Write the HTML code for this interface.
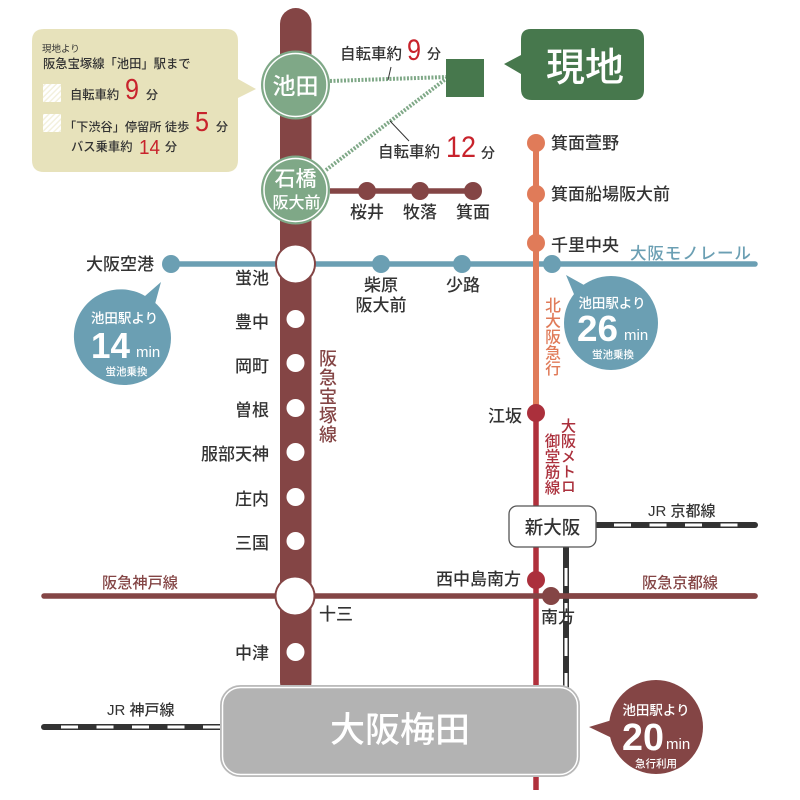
<!DOCTYPE html>
<html lang="ja"><head><meta charset="utf-8"><style>
html,body{margin:0;padding:0;background:#fff}
svg{display:block}
text{font-family:"Liberation Sans","Noto Sans CJK JP",sans-serif;font-weight:500;fill:#333}
.s{font-size:17px}
.e{text-anchor:end}.m{text-anchor:middle}
.w{fill:#fff}
.v{writing-mode:vertical-rl;text-anchor:start}
.r{fill:#c8232c;font-weight:400}
</style></head><body>
<svg width="800" height="800" viewBox="0 0 800 800" xmlns="http://www.w3.org/2000/svg">
<defs><pattern id="h" width="4" height="4" patternUnits="userSpaceOnUse" patternTransform="rotate(-45)"><rect width="4" height="4" fill="#f3f0dc"/><rect width="4" height="2.6" fill="#fff"/></pattern></defs>

<!-- main line -->
<rect x="280" y="8" width="31.5" height="690" rx="15.7" fill="#844545"/>

<!-- lines -->
<line x1="171" y1="264" x2="755" y2="264" stroke="#6b9fb3" stroke-width="5.5" stroke-linecap="round"/>
<line x1="536" y1="143" x2="536" y2="413" stroke="#e07b59" stroke-width="6"/>
<line x1="536" y1="413" x2="536" y2="790" stroke="#b0303c" stroke-width="5.5"/>
<line x1="44" y1="596" x2="755" y2="596" stroke="#844545" stroke-width="5.5" stroke-linecap="round"/>
<line x1="330" y1="191" x2="473" y2="191" stroke="#844545" stroke-width="5.5"/>

<!-- JR -->
<line x1="566" y1="547" x2="566" y2="690" stroke="#333" stroke-width="6"/>
<line x1="566" y1="568" x2="566" y2="690" stroke="#fff" stroke-width="3" stroke-dasharray="18 17"/>
<line x1="596" y1="525" x2="755" y2="525" stroke="#333" stroke-width="6" stroke-linecap="round"/>
<line x1="614" y1="525" x2="755" y2="525" stroke="#fff" stroke-width="3" stroke-dasharray="17 18.5"/>
<line x1="44" y1="727" x2="222" y2="727" stroke="#333" stroke-width="6" stroke-linecap="round"/>
<line x1="61" y1="727" x2="222" y2="727" stroke="#fff" stroke-width="3" stroke-dasharray="17 18.5"/>

<!-- redraw kyoto line over JR -->
<line x1="552" y1="596" x2="755" y2="596" stroke="#844545" stroke-width="5.5" stroke-linecap="round"/>

<!-- station nodes -->
<g fill="#6b9fb3"><circle cx="171" cy="264" r="9"/><circle cx="381" cy="264" r="9"/><circle cx="462" cy="264" r="9"/><circle cx="552" cy="264" r="9"/></g>
<g fill="#e07b59"><circle cx="536" cy="143" r="9"/><circle cx="536" cy="194" r="9"/><circle cx="536" cy="243" r="9"/></g>
<g fill="#ab303c"><circle cx="536" cy="413" r="9"/><circle cx="536" cy="580" r="9"/></g>
<g fill="#844545"><circle cx="367" cy="191" r="9"/><circle cx="420" cy="191" r="9"/><circle cx="473" cy="191" r="9"/><circle cx="551" cy="596" r="9"/></g>
<g fill="#fff"><circle cx="295.500" cy="319" r="9"/><circle cx="295.500" cy="363" r="9"/><circle cx="295.500" cy="408" r="9"/><circle cx="295.500" cy="452" r="9"/><circle cx="295.500" cy="497" r="9"/><circle cx="295.500" cy="541" r="9"/><circle cx="295.500" cy="652" r="9"/></g>
<circle cx="295.500" cy="264" r="19.500" fill="#fff" stroke="#844545" stroke-width="2"/>
<circle cx="295" cy="596" r="19.500" fill="#fff" stroke="#844545" stroke-width="2"/>

<!-- dotted connectors -->
<g stroke="#7fa887" stroke-width="4" stroke-dasharray="2 1.500" fill="none">
<line x1="330" y1="81" x2="447" y2="77"/>
<line x1="326" y1="170" x2="447" y2="78"/>
</g>
<g stroke="#333" stroke-width="1" fill="none"><line x1="388" y1="80" x2="391" y2="67"/><line x1="390" y1="121" x2="409" y2="141"/></g>

<!-- Ikeda / Ishibashi -->
<circle cx="295.500" cy="85" r="34.500" fill="#7fa887"/><circle cx="295.500" cy="85" r="31.500" fill="#7fa887" stroke="#fff" stroke-width="1.500"/>
<text x="295.500" y="94" class="m w" font-size="23">池田</text>
<circle cx="295.500" cy="190" r="34.500" fill="#7fa887"/><circle cx="295.500" cy="190" r="31.500" fill="#7fa887" stroke="#fff" stroke-width="1.500"/>
<text x="295.500" y="186" class="m w" font-size="21">石橋</text>
<text x="296.500" y="208" class="m w" font-size="16">阪大前</text>

<!-- genchi -->
<rect x="446" y="59" width="38" height="38" fill="#47784d"/>
<path d="M504 64L521 55V89Q521 100 532 100H634Q644 100 644 90V39Q644 29 634 29H531Q521 29 521 39V74Z" fill="#47784d"/>
<text x="585" y="81" class="m w" font-size="39">現地</text>

<!-- bike labels -->
<text x="340" y="59" font-size="15.500">自転車約</text>
<text x="407" y="60" class="r" font-size="30" textLength="14" lengthAdjust="spacingAndGlyphs">9</text>
<text x="427" y="59" font-size="14">分</text>
<text x="378" y="157" font-size="15.500">自転車約</text>
<text x="446" y="157" class="r" font-size="30" textLength="30" lengthAdjust="spacingAndGlyphs">12</text>
<text x="481" y="158" font-size="14">分</text>

<!-- yellow box -->
<path d="M256 89L238 98V160Q238 172 226 172H44Q32 172 32 160V41Q32 29 44 29H226Q238 29 238 41V79Z" fill="#e7e2bb"/>
<text x="42" y="52" font-size="9.500" style="font-weight:400">現地より</text>
<text x="43" y="68" font-size="12.300">阪急宝塚線「池田」駅まで</text>
<rect x="43" y="84" width="18" height="18" fill="url(#h)"/>
<rect x="43" y="114" width="18" height="18" fill="url(#h)"/>
<text x="70" y="99" font-size="12.300">自転車約</text>
<text x="125" y="99" class="r" font-size="29" textLength="14" lengthAdjust="spacingAndGlyphs">9</text>
<text x="146" y="99" font-size="12">分</text>
<text x="64" y="131" font-size="12.200">「下渋谷」停留所 徒歩</text>
<text x="195" y="131" class="r" font-size="28" textLength="14" lengthAdjust="spacingAndGlyphs">5</text>
<text x="216" y="131" font-size="12">分</text>
<text x="71" y="151" font-size="12.300">バス乗車約</text>
<text x="139" y="154" class="r" font-size="20" textLength="21" lengthAdjust="spacingAndGlyphs">14</text>
<text x="165" y="151" font-size="12">分</text>

<!-- branch labels -->
<text x="367" y="218" class="m s">桜井</text>
<text x="420" y="218" class="m s">牧落</text>
<text x="473" y="218" class="m s">箕面</text>
<text x="551" y="149" class="s">箕面萱野</text>
<text x="551" y="200" class="s">箕面船場阪大前</text>
<text x="551" y="251" class="s">千里中央</text>
<text x="630" y="259" font-size="16.500" style="fill:#6b9fb3" letter-spacing="0.900">大阪モノレール</text>
<text x="154" y="270" class="e s">大阪空港</text>

<!-- left stations -->
<text x="269" y="284" class="e s">蛍池</text>
<text x="269" y="328" class="e s">豊中</text>
<text x="269" y="372" class="e s">岡町</text>
<text x="269" y="416" class="e s">曽根</text>
<text x="269" y="460" class="e s">服部天神</text>
<text x="269" y="505" class="e s">庄内</text>
<text x="269" y="549" class="e s">三国</text>
<text x="269" y="659" class="e s">中津</text>
<text x="319" y="620" class="s">十三</text>
<text x="381" y="291" class="m s">柴原</text>
<text x="381" y="311" class="m s">阪大前</text>
<text x="463" y="291" class="m s">少路</text>
<text x="522" y="422" class="e s">江坂</text>
<text x="521" y="585" class="e s">西中島南方</text>
<text x="558" y="623" class="m s">南方</text>

<!-- vertical labels -->
<text x="327" y="349" class="v" font-size="18" letter-spacing="1" style="fill:#844545">阪急宝塚線</text>
<text x="551" y="297" class="v" font-size="15.800" style="fill:#e07b59;">北大阪急行</text>
<text x="567" y="418" class="v" font-size="15.200" style="fill:#ab303c">大阪メトロ</text>
<text x="551" y="433" class="v" font-size="15.500" style="fill:#ab303c">御堂筋線</text>

<!-- line labels -->
<text x="140" y="588" class="m" font-size="15.200" style="fill:#844545">阪急神戸線</text>
<text x="680" y="588" class="m" font-size="15.200" style="fill:#844545">阪急京都線</text>
<text x="648" y="516" font-size="15">JR 京都線</text>
<text x="107" y="715" font-size="15">JR 神戸線</text>

<!-- Shin-Osaka -->
<rect x="509" y="506" width="87" height="41" rx="8" fill="#fff" stroke="#555" stroke-width="1.300"/>
<text x="552.500" y="534" class="m" font-size="18.500">新大阪</text>

<!-- Umeda -->
<rect x="220.500" y="685.500" width="359" height="91" rx="20" fill="#b3b3b3" stroke="#bbb" stroke-width="1"/>
<rect x="222.500" y="687.500" width="355" height="87" rx="18" fill="#b3b3b3" stroke="#fff" stroke-width="1.500"/>
<text x="400" y="742" class="m w" font-size="35">大阪梅田</text>

<!-- bubbles -->
<path d="M161 282L155 304A47 47 0 1 1 145 296Z" fill="#6b9fb3"/>
<circle cx="124" cy="338" r="47" fill="#6b9fb3"/>
<text x="124.500" y="323" class="m w" font-size="13.500">池田駅より</text>
<text x="91" y="358" class="w" font-size="36" style="font-weight:700" textLength="39" lengthAdjust="spacingAndGlyphs">14</text>
<text x="136" y="357" class="w" font-size="15" style="font-weight:400">min</text>
<text x="126.500" y="375" class="m w" font-size="10.500">蛍池乗換</text>

<path d="M566 275L584 285L576 299Z" fill="#6b9fb3"/>
<circle cx="611" cy="323" r="47" fill="#6b9fb3"/>
<text x="612" y="308" class="m w" font-size="13.500">池田駅より</text>
<text x="577" y="341" class="w" font-size="36" style="font-weight:700" textLength="41" lengthAdjust="spacingAndGlyphs">26</text>
<text x="624" y="340" class="w" font-size="15" style="font-weight:400">min</text>
<text x="613" y="358" class="m w" font-size="10.500">蛍池乗換</text>

<path d="M589 727L612 720V738Z" fill="#844545"/>
<circle cx="656" cy="727" r="47" fill="#844545"/>
<text x="656" y="715" class="m w" font-size="13.500">池田駅より</text>
<text x="622" y="750" class="w" font-size="38" style="font-weight:700" textLength="42" lengthAdjust="spacingAndGlyphs">20</text>
<text x="666" y="749" class="w" font-size="15" style="font-weight:400">min</text>
<text x="656" y="767" class="m w" font-size="10.500">急行利用</text>
</svg>
</body></html>
